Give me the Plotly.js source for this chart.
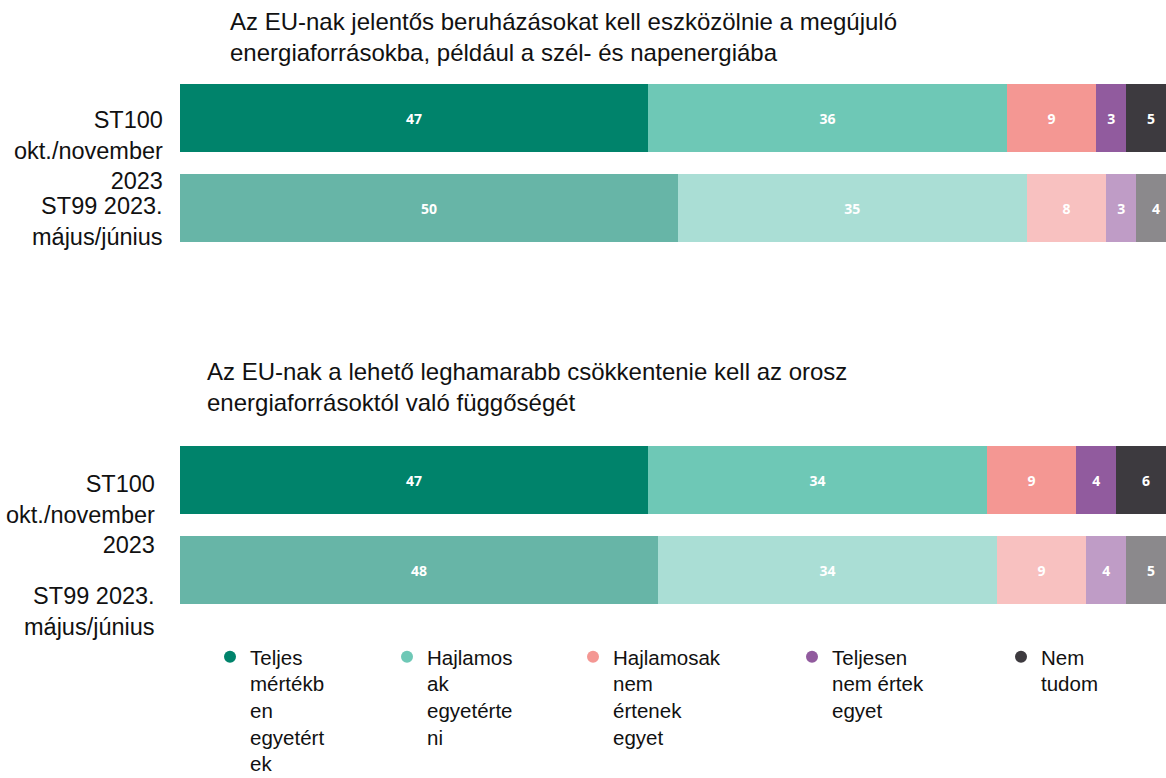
<!DOCTYPE html>
<html>
<head>
<meta charset="utf-8">
<script src="https://cdn.plot.ly/plotly-3.0.1.min.js"></script>
<style>html,body{margin:0;padding:0;background:#fff;}#chart{width:1166px;height:778px;}</style>
</head>
<body>
<div id="chart"></div>
<script>
// ---- data ----
const categories = ["ST100", "ST99"];
const seriesNames = [
  "Teljes<br>mértékb<br>en<br>egyetért<br>ek",
  "Hajlamos<br>ak<br>egyetérte<br>ni",
  "Hajlamosak<br>nem<br>értenek<br>egyet",
  "Teljesen<br>nem értek<br>egyet",
  "Nem<br>tudom"
];
// values per series: [ST100, ST99]
const topValues = [
  [47, 50],
  [36, 35],
  [9, 8],
  [3, 3],
  [5, 4]
];
const bottomValues = [
  [47, 48],
  [34, 34],
  [9, 9],
  [4, 4],
  [6, 5]
];
const topTitle = "Az EU-nak jelentős beruházásokat kell eszközölnie a megújuló<br>energiaforrásokba, például a szél- és napenergiába";
const bottomTitle = "Az EU-nak a lehető leghamarabb csökkentenie kell az orosz<br>energiaforrásoktól való függőségét";
const rowLabels = ["ST100<br>okt./november<br>2023", "ST99 2023.<br>május/június"];

// ---- styles ----
const strongColors = ['#00836B', '#6EC8B6', '#F49793', '#915B9E', '#3D3A3F'];
const fadedColors  = ['#67B5A7', '#AADED5', '#F8C1C0', '#BF9CC6', '#8B898C'];
const FONT = 'Liberation Sans, Arial, sans-serif';
const W = 1166, H = 778;
const px = v => v / W;
const py = v => 1 - v / H;

const traces = [];
function addPanel(values, xa, ya) {
  values.forEach((vals, i) => {
    traces.push({
      type: 'bar', orientation: 'h',
      x: vals, y: categories,
      xaxis: xa, yaxis: ya,
      name: seriesNames[i], showlegend: false,
      marker: {color: [strongColors[i], fadedColors[i]], line: {width: 0}},
      texttemplate: '%{x}', textposition: 'inside', insidetextanchor: 'middle',
      textangle: 0, constraintext: 'none',
      textfont: {family: 'Open Sans, DejaVu Sans, sans-serif', size: 14, color: '#ffffff', weight: 'bold'},
      hoverinfo: 'skip'
    });
  });
}
addPanel(topValues, 'x', 'y');
addPanel(bottomValues, 'x2', 'y2');

// legend entries (circle markers)
const legendX = [232, 409, 595, 814, 1023];
const legends = {};
seriesNames.forEach((n, i) => {
  const key = i === 0 ? 'legend' : 'legend' + (i + 1);
  traces.push({
    type: 'scatter', mode: 'markers', x: [null], y: [null],
    xaxis: 'x', yaxis: 'y', name: n, showlegend: true, legend: key,
    marker: {color: strongColors[i], size: 12, symbol: 'circle'},
    hoverinfo: 'skip'
  });
  legends[key] = {
    x: px(legendX[i] - 22), xanchor: 'left', y: py(637), yanchor: 'top',
    bgcolor: 'rgba(0,0,0,0)', borderwidth: 0, valign: 'top',
    font: {family: FONT, size: 20.5, color: '#111'},
    itemclick: false, itemdoubleclick: false
  };
});

const axX = {domain: [px(180), 1], range: [0, 99], showgrid: false, zeroline: false, showticklabels: false, showline: false, fixedrange: true};
const axYcommon = {type: 'category', range: [1.5, -0.5], showgrid: false, zeroline: false, showticklabels: false, showline: false, fixedrange: true};

const annotations = [
  {text: topTitle, xref: 'paper', yref: 'paper', x: px(228), y: py(37), xanchor: 'left', yanchor: 'middle', align: 'left', showarrow: false, font: {family: FONT, size: 24, color: '#111'}},
  {text: bottomTitle, xref: 'paper', yref: 'paper', x: px(205), y: py(387), xanchor: 'left', yanchor: 'middle', align: 'left', showarrow: false, font: {family: FONT, size: 24, color: '#111'}},
  {text: rowLabels[0], xref: 'paper', yref: 'paper', x: px(165), y: py(151), xanchor: 'right', yanchor: 'middle', align: 'right', showarrow: false, font: {family: FONT, size: 23.5, color: '#111'}},
  {text: rowLabels[1], xref: 'paper', yref: 'paper', x: px(165), y: py(221.5), xanchor: 'right', yanchor: 'middle', align: 'right', showarrow: false, font: {family: FONT, size: 23.5, color: '#111'}},
  {text: rowLabels[0], xref: 'paper', yref: 'paper', x: px(157), y: py(514), xanchor: 'right', yanchor: 'middle', align: 'right', showarrow: false, font: {family: FONT, size: 23.5, color: '#111'}},
  {text: rowLabels[1], xref: 'paper', yref: 'paper', x: px(157), y: py(611), xanchor: 'right', yanchor: 'middle', align: 'right', showarrow: false, font: {family: FONT, size: 23.5, color: '#111'}}
];

const layout = Object.assign({
  width: W, height: H,
  margin: {l: 0, r: 0, t: 0, b: 0, autoexpand: false},
  paper_bgcolor: '#fff', plot_bgcolor: '#fff',
  barmode: 'stack', bargap: 0.25,
  showlegend: true,
  xaxis: Object.assign({}, axX, {anchor: 'y'}),
  xaxis2: Object.assign({}, axX, {anchor: 'y2'}),
  yaxis: Object.assign({}, axYcommon, {domain: [py(253), py(73)], anchor: 'x'}),
  yaxis2: Object.assign({}, axYcommon, {domain: [py(615), py(435)], anchor: 'x2'}),
  annotations: annotations,
  font: {family: FONT}
}, legends);

Plotly.newPlot('chart', traces, layout, {displayModeBar: false, staticPlot: true});
</script>
</body>
</html>
